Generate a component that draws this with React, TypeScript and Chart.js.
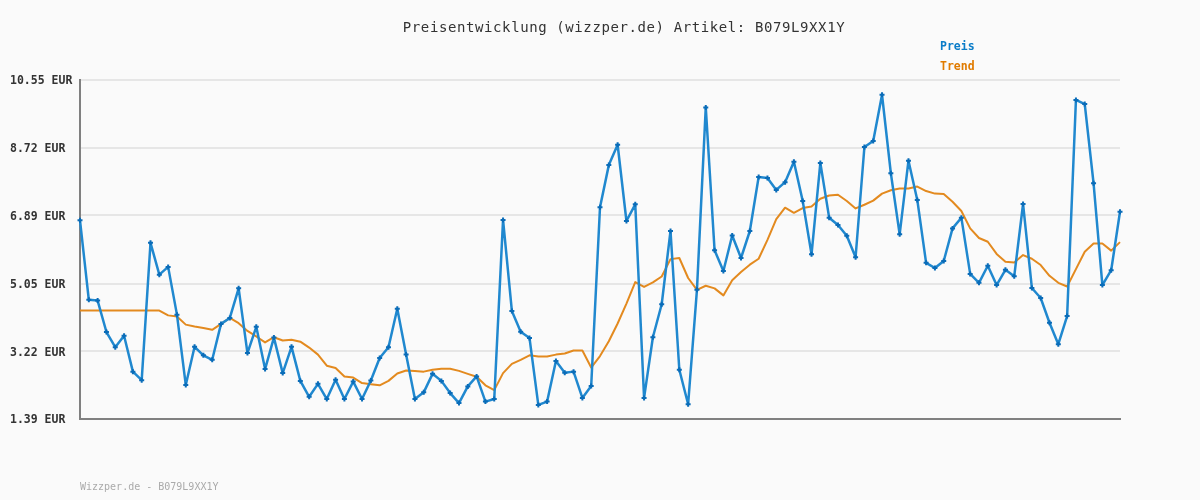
import React, { useEffect, useRef } from "react";
import { Chart, registerables } from "chart.js";

Chart.register(...registerables);

const TITLE = "Preisentwicklung (wizzper.de) Artikel: B079L9XX1Y";
const FOOTER = "Wizzper.de - B079L9XX1Y";
const SERIES_NAMES = ["Preis", "Trend"];
const Y_TICKS = [1.39, 3.22, 5.05, 6.89, 8.72, 10.55];

const PRICE = [
  6.76, 4.61, 4.59, 3.74, 3.33, 3.64, 2.67, 2.44, 6.15, 5.29,
  5.5, 4.21, 2.31, 3.34, 3.11, 2.99, 3.96, 4.12, 4.92, 3.17,
  3.88, 2.74, 3.59, 2.63, 3.34, 2.42, 1.99, 2.34, 1.93, 2.45,
  1.93, 2.4, 1.93, 2.43, 3.04, 3.33, 4.37, 3.13, 1.93, 2.11,
  2.61, 2.42, 2.09, 1.82, 2.27, 2.54, 1.86, 1.93, 6.77, 4.31,
  3.75, 3.58, 1.77, 1.86, 2.96, 2.64, 2.67, 1.96, 2.28, 7.11,
  8.25, 8.8, 6.74, 7.19, 1.96, 3.6, 4.49, 6.47, 2.72, 1.79,
  4.88, 9.81, 5.95, 5.39, 6.35, 5.74, 6.47, 7.93, 7.9, 7.58,
  7.79, 8.34, 7.28, 5.84, 8.31, 6.83, 6.63, 6.34, 5.76, 8.74,
  8.9, 10.15, 8.03, 6.38, 8.37, 7.31, 5.61, 5.47, 5.66, 6.54,
  6.83, 5.31, 5.07, 5.53, 5.01, 5.42, 5.25, 7.2, 4.93, 4.66,
  3.99, 3.41, 4.17, 10.01, 9.9, 7.76, 5.01, 5.41, 6.99,
];

const TREND = [
  4.32, 4.32, 4.32, 4.32, 4.32, 4.32, 4.32, 4.32, 4.32, 4.32,
  4.19, 4.16, 3.94, 3.89, 3.85, 3.8, 3.96, 4.12, 3.98, 3.77,
  3.62, 3.46, 3.6, 3.51, 3.53, 3.48, 3.32, 3.13, 2.83, 2.77,
  2.54, 2.51, 2.36, 2.33, 2.3, 2.42, 2.62, 2.7, 2.69, 2.67,
  2.72, 2.75, 2.75, 2.69, 2.61, 2.53, 2.3, 2.17, 2.63, 2.88,
  2.99, 3.11, 3.08, 3.08, 3.13, 3.16, 3.24, 3.24, 2.78, 3.09,
  3.49, 3.97, 4.51, 5.09, 4.96, 5.08, 5.24, 5.71, 5.74, 5.2,
  4.88, 4.99, 4.92, 4.73, 5.14, 5.36, 5.56, 5.72, 6.23, 6.79,
  7.1, 6.96, 7.09, 7.13, 7.34, 7.43, 7.45, 7.28, 7.08, 7.18,
  7.29, 7.48, 7.57, 7.62, 7.62, 7.67, 7.55, 7.48, 7.47, 7.26,
  7.01, 6.54, 6.28, 6.18, 5.85, 5.64, 5.62, 5.82, 5.72, 5.55,
  5.26, 5.07, 4.97, 5.44, 5.91, 6.13, 6.13, 5.94, 6.17,
];

const LABELS = PRICE.map((_, i) => String(i + 1));

const PRICE_COLOR = "#2088cf";
const PRICE_POINT = "#0a6cb8";
const TREND_COLOR = "#e38a1f";
const LEGEND_COLORS = ["#0a7cc8", "#e07b00"];
const MONO = '"DejaVu Sans Mono", monospace';

export default function App() {
  const ref = useRef<HTMLCanvasElement>(null);

  useEffect(() => {
    if (!ref.current) return;
    const overlay = {
      id: "overlay",
      beforeDraw(chart: any) {
        const ctx = chart.ctx;
        ctx.save();
        ctx.fillStyle = "#fafafa";
        ctx.fillRect(0, 0, chart.width, chart.height);
        ctx.restore();
      },
      afterDraw(chart: any) {
        const ctx = chart.ctx;
        ctx.save();
        ctx.textBaseline = "middle";
        ctx.textAlign = "center";
        ctx.fillStyle = "#333333";
        ctx.font = "14px " + MONO;
        (ctx as any).letterSpacing = "0.6px";
        ctx.fillText(TITLE, 624, 28);
        (ctx as any).letterSpacing = "0px";
        ctx.textAlign = "left";
        ctx.font = "bold 11.5px " + MONO;
        SERIES_NAMES.forEach((name, i) => {
          ctx.fillStyle = LEGEND_COLORS[i];
          ctx.fillText(name, 940, 47 + i * 20);
        });
        ctx.font = "10px " + MONO;
        ctx.fillStyle = "#aaaaaa";
        ctx.fillText(FOOTER, 80, 487);
        ctx.restore();
      },
    };

    const chart = new Chart(ref.current, {
      type: "line",
      data: {
        labels: LABELS,
        datasets: [
          {
            label: SERIES_NAMES[0],
            data: PRICE,
            borderColor: PRICE_COLOR,
            borderWidth: 2.5,
            borderJoinStyle: "round",
            borderCapStyle: "round",
            pointStyle: "cross",
            pointRadius: 2.5,
            pointBorderWidth: 2,
            pointBorderColor: PRICE_POINT,
            pointBackgroundColor: PRICE_POINT,
            tension: 0,
            fill: false,
          },
          {
            label: SERIES_NAMES[1],
            data: TREND,
            borderColor: TREND_COLOR,
            borderWidth: 2,
            borderJoinStyle: "round",
            pointRadius: 0,
            tension: 0,
            fill: false,
          },
        ],
      },
      options: {
        responsive: false,
        animation: false,
        devicePixelRatio: 1,
        layout: { padding: { left: 10, top: 80, right: 80, bottom: 81 } },
        plugins: {
          legend: { display: false },
          title: { display: false },
          tooltip: { enabled: false },
        },
        scales: {
          x: {
            offset: false,
            ticks: { display: false },
            grid: { display: false, drawTicks: false },
            border: { color: "#808080", width: 2 },
            afterFit: (s: any) => {
              s.height = 0;
            },
          },
          y: {
            min: Y_TICKS[0],
            max: Y_TICKS[Y_TICKS.length - 1],
            afterBuildTicks: (s: any) => {
              s.ticks = Y_TICKS.map((v) => ({ value: v }));
            },
            afterFit: (s: any) => {
              s.width = 70;
            },
            ticks: {
              crossAlign: "far",
              padding: 0,
              labelOffset: 1.5,
              color: "#333333",
              font: { family: MONO, size: 11.5, weight: "bold" },
              callback: (v: any) => Number(v).toFixed(2) + " EUR",
            },
            grid: { color: "#e6e6e6", lineWidth: 2, drawTicks: false },
            border: { color: "#808080", width: 2 },
          },
        },
      },
      plugins: [overlay],
    } as any);

    return () => chart.destroy();
  }, []);

  return (
    <div
      style={{
        position: "fixed",
        left: 0,
        top: 0,
        width: 1200,
        height: 500,
        background: "#fafafa",
      }}
    >
      <canvas ref={ref} width={1200} height={500} style={{ display: "block" }} />
    </div>
  );
}
